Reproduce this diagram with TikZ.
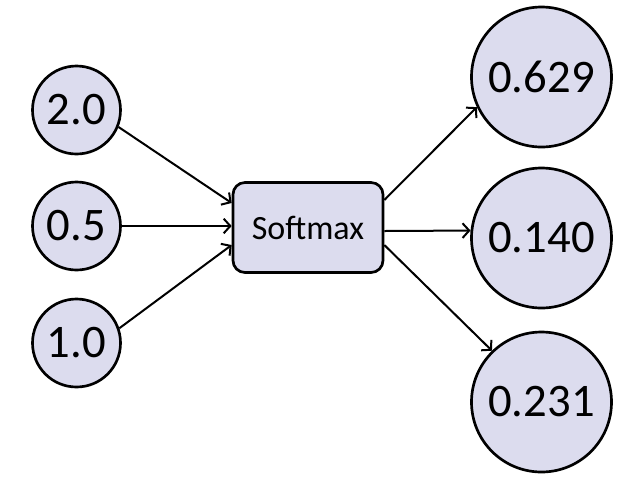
\documentclass[tikz,border=0pt]{standalone}
\usepackage{fontspec}
\setmainfont{Carlito}
\usetikzlibrary{arrows.meta,calc}
\definecolor{nodefill}{RGB}{220,220,238}
\tikzset{
  incirc/.style={circle,draw=black,fill=nodefill,line width=2pt,minimum size=66pt,inner sep=0pt,font=\fontsize{35}{40}\selectfont},
  outcirc/.style={circle,draw=black,fill=nodefill,line width=2pt,minimum size=105pt,inner sep=0pt,font=\fontsize{35}{40}\selectfont},
  smbox/.style={rectangle,rounded corners=9pt,draw=black,fill=nodefill,line width=2pt,minimum width=112.5pt,minimum height=67.5pt,inner sep=0pt,font=\fontsize{25.5}{30}\selectfont},
  conn/.style={line width=1.5pt,-{Straight Barb[length=5pt,width=11pt,line width=1.5pt]}}
}
\begin{document}
\begin{tikzpicture}[x=0.75pt,y=-0.75pt]
\useasboundingbox (0,0) rectangle (640,480);
\node[incirc] (a) at (76.5,110) {2.0};
\node[incirc] (b) at (76.5,226) {0.5};
\node[incirc] (c) at (76.5,343) {1.0};
\node[smbox] (s) at (308,227.5) {Softmax};
\node[outcirc] (p) at (541.5,77) {0.629};
\node[outcirc] (q) at (541.5,238) {0.140};
\node[outcirc] (r) at (541.5,402) {0.231};
\draw[conn] (a.-22) -- ($(s.west)+(0,-24.5)$);
\draw[conn] (b.0) -- (s.west |- b.0);
\draw[conn] (c.19) -- ($(s.west)+(0,17.5)$);
\draw[conn] ($(s.east)+(0,-27.5)$) -- (p.205);
\draw[conn] ($(s.east)+(0,3.5)$) -- (q.174);
\draw[conn] ($(s.east)+(0,17.5)$) -- (r.134);
\end{tikzpicture}
\end{document}
